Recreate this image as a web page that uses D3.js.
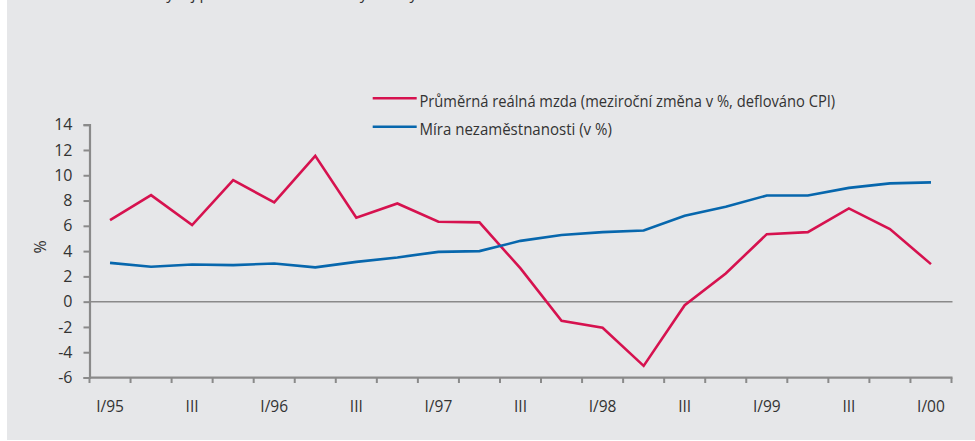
<!DOCTYPE html>
<html>
<head>
<meta charset="utf-8">
<script src="https://cdn.jsdelivr.net/npm/d3@7"></script>
<style>
  html, body { margin: 0; padding: 0; background: #ffffff; }
  svg { display: block; }
  text { font-family: "Open Sans", "Noto Sans", sans-serif; fill: #333; }
</style>
</head>
<body>
<svg id="chart" width="975" height="441"></svg>
<script>
// ---- data ----
const quarters = ["I/95","II/95","III/95","IV/95","I/96","II/96","III/96","IV/96",
                  "I/97","II/97","III/97","IV/97","I/98","II/98","III/98","IV/98",
                  "I/99","II/99","III/99","IV/99","I/00"];
const tickLabels = ["I/95","","III","","I/96","","III","","I/97","","III","",
                    "I/98","","III","","I/99","","III","","I/00"];
const realWage = [6.45, 8.43, 6.06, 9.62, 7.85, 11.54, 6.64, 7.77, 6.32, 6.27,
                  2.63, -1.52, -2.07, -5.08, -0.28, 2.23, 5.34, 5.5, 7.38, 5.74, 2.97];
const unemployment = [3.07, 2.76, 2.94, 2.89, 3.02, 2.71, 3.15, 3.5, 3.94, 4.0,
                      4.81, 5.27, 5.5, 5.63, 6.8, 7.5, 8.4, 8.4, 9.0, 9.36, 9.44];
const yTicks = [-6,-4,-2,0,2,4,6,8,10,12,14];
const seriesNames = ["Průměrná reálná mzda (meziroční změna v %, deflováno CPI)",
                     "Míra nezaměstnanosti (v %)"];
const title = "Vývoj průměrné reálné mzdy a míry nezaměstnanosti";

const colors = ["#d6124f", "#0767ad"];
const axisGray = "#8a8a8a";

const svg = d3.select("#chart");
svg.append("rect").attr("x", 7).attr("y", 0).attr("width", 968).attr("height", 440)
   .attr("fill", "#e6e7e9");

// cut-off title (only descenders visible, as in the reference)
svg.append("text").attr("x", 157).attr("y", -0.8)
   .attr("font-size", 16).attr("textLength", 390).attr("lengthAdjust", "spacingAndGlyphs")
   .text(title);

const x = d3.scaleBand().domain(quarters).range([89.5, 951.5]).paddingInner(0).paddingOuter(0);
const y = d3.scaleLinear().domain([-6, 14]).range([377.5, 124.7]);

// zero line
svg.append("line").attr("x1", 89.5).attr("x2", 952.5)
   .attr("y1", y(0)).attr("y2", y(0))
   .attr("stroke", axisGray).attr("stroke-width", 1.5);

// y axis
const yAxis = svg.append("g").attr("transform", "translate(89.5,0)")
   .call(d3.axisLeft(y).tickValues(yTicks).tickSize(6).tickPadding(11).tickFormat(d => String(d)));
yAxis.select(".domain").attr("stroke", axisGray).attr("stroke-width", 2.2);
yAxis.selectAll(".tick line").attr("stroke", axisGray).attr("stroke-width", 2);
yAxis.selectAll(".tick text").attr("font-size", 16).attr("fill", "#333")
   .attr("font-family", "'Open Sans', sans-serif");

// x axis (ticks at band boundaries)
const bounds = quarters.map(q => x(q)).concat([x(quarters[quarters.length-1]) + x.bandwidth()]);
const xg = svg.append("g");
xg.append("line").attr("x1", 89.5).attr("x2", 952.5).attr("y1", 377.7).attr("y2", 377.7)
   .attr("stroke", axisGray).attr("stroke-width", 2.2);
xg.selectAll("line.xt").data(bounds).join("line").attr("class", "xt")
   .attr("x1", d => d).attr("x2", d => d).attr("y1", 377.7).attr("y2", 383)
   .attr("stroke", axisGray).attr("stroke-width", 2);
xg.selectAll("text").data(quarters).join("text")
   .attr("x", d => x(d) + x.bandwidth()/2).attr("y", 411.5)
   .attr("text-anchor", "middle").attr("font-size", 15.5)
   .text((d, i) => tickLabels[i]);

// y label
svg.append("text").attr("transform", "translate(46,247) rotate(-90)")
   .attr("text-anchor", "middle").attr("font-size", 16).text("%");

// lines
const line = d3.line().x((d, i) => x(quarters[i]) + x.bandwidth()/2).y(d => y(d));
[realWage, unemployment].forEach((s, k) => {
  svg.append("path").datum(s).attr("d", line)
     .attr("fill", "none").attr("stroke", colors[k]).attr("stroke-width", 2.6)
     .attr("stroke-linejoin", "miter");
});

// legend
const legY = [98.3, 126.7];
const legW = [415.7, 192.4];
seriesNames.forEach((n, k) => {
  svg.append("line").attr("x1", 372.7).attr("x2", 416.7).attr("y1", legY[k]).attr("y2", legY[k])
     .attr("stroke", colors[k]).attr("stroke-width", 2.6);
  svg.append("text").attr("x", 419.5).attr("y", legY[k] + 8.5).attr("font-size", 16)
     .attr("textLength", legW[k]).attr("lengthAdjust", "spacingAndGlyphs").text(n);
});
</script>
</body>
</html>
